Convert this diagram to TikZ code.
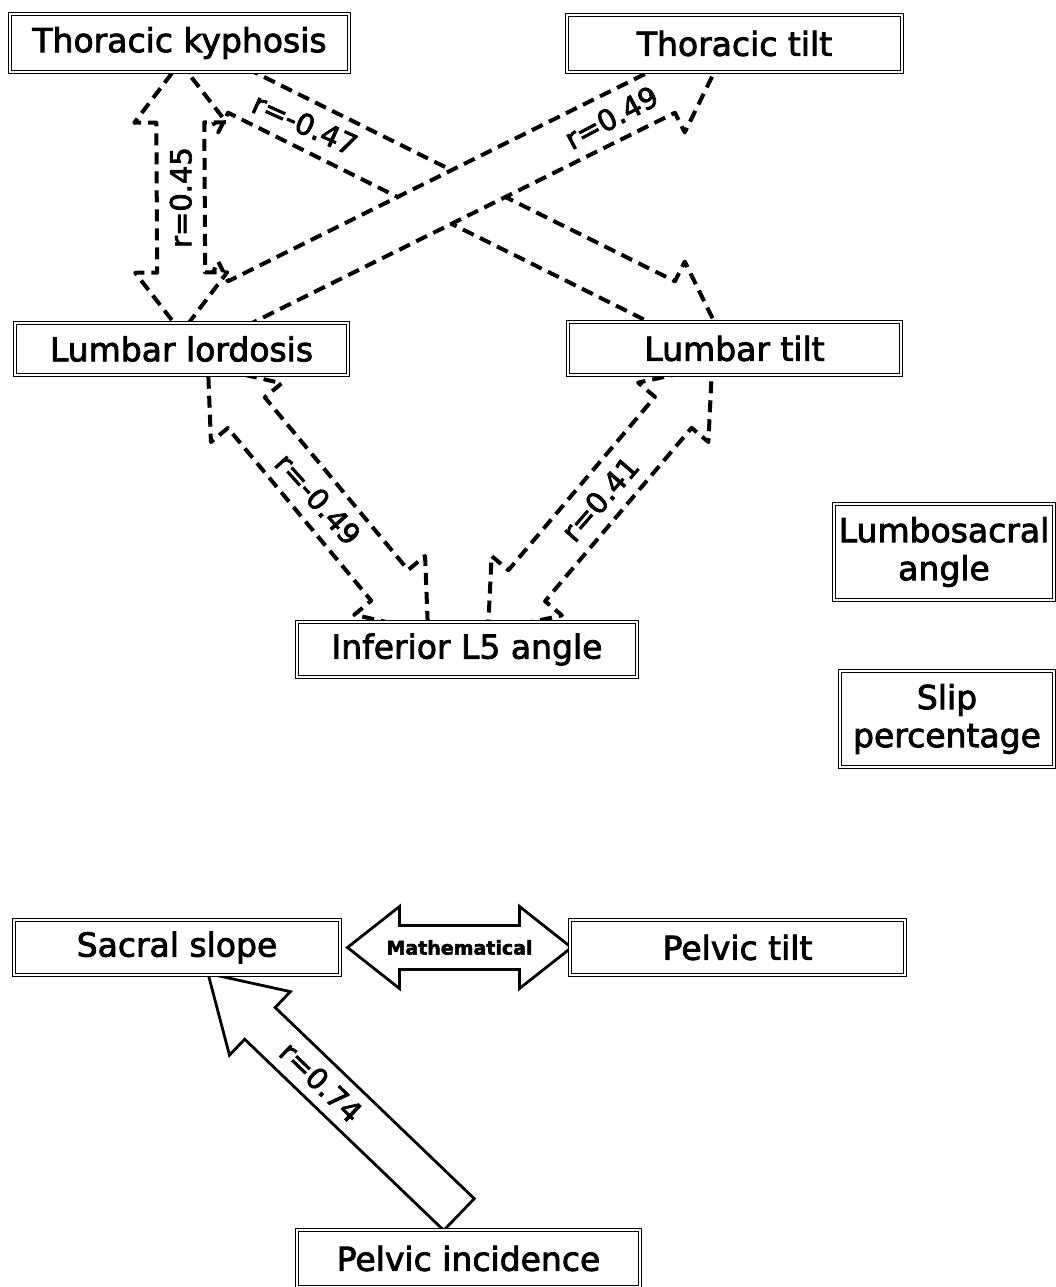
\documentclass[tikz,border=0pt]{standalone}
\usepackage{fontspec}
\setmainfont{DejaVu Sans}[FakeBold=2.5]
\usetikzlibrary{calc}
\pgfdeclarelayer{bglayer}
\pgfdeclarelayer{arrowlayer}
\pgfsetlayers{bglayer,arrowlayer,main}

\tikzset{
  arrW/.store in=\arrW, arrH/.store in=\arrH, arrL/.store in=\arrL,
  arrW=24pt, arrH=46pt, arrL=60pt,
  % block arrow with a head at both ends
  dblarrow/.style={to path={
    -- ($(\tikztostart)!\arrL!(\tikztotarget)!\arrH!90:(\tikztotarget)$)
    -- ($(\tikztostart)!\arrL!(\tikztotarget)!\arrW!90:(\tikztotarget)$)
    -- ($(\tikztotarget)!\arrL!(\tikztostart)!\arrW!-90:(\tikztostart)$)
    -- ($(\tikztotarget)!\arrL!(\tikztostart)!\arrH!-90:(\tikztostart)$)
    -- (\tikztotarget)
    -- ($(\tikztotarget)!\arrL!(\tikztostart)!\arrH!90:(\tikztostart)$)
    -- ($(\tikztotarget)!\arrL!(\tikztostart)!\arrW!90:(\tikztostart)$)
    -- ($(\tikztostart)!\arrL!(\tikztotarget)!\arrW!-90:(\tikztotarget)$)
    -- ($(\tikztostart)!\arrL!(\tikztotarget)!\arrH!-90:(\tikztotarget)$)
    -- cycle}},
  % block arrow with a single head at the target
  sglarrow/.style={to path={
    -- ($(\tikztostart)!\arrW!90:(\tikztotarget)$)
    -- ($(\tikztotarget)!\arrL!(\tikztostart)!\arrW!-90:(\tikztostart)$)
    -- ($(\tikztotarget)!\arrL!(\tikztostart)!\arrH!-90:(\tikztostart)$)
    -- (\tikztotarget)
    -- ($(\tikztotarget)!\arrL!(\tikztostart)!\arrH!90:(\tikztostart)$)
    -- ($(\tikztotarget)!\arrL!(\tikztostart)!\arrW!90:(\tikztostart)$)
    -- ($(\tikztostart)!\arrW!-90:(\tikztotarget)$)
    -- cycle}},
  dashedarrow/.style={draw=black, fill=white, line width=4pt,
    dash pattern=on 12pt off 7pt, line join=round},
  solidarrow/.style={draw=black, fill=white, line width=2.8pt, line join=miter},
  box/.style={draw=black, fill=white, double=white, double distance=2.2pt,
    line width=1pt, inner sep=0pt, align=center,
    font=\fontsize{33}{38}\selectfont},
  corr/.style={inner sep=1pt, font=\fontsize{29}{30}\selectfont},
}

\begin{document}
\begin{tikzpicture}[x=1pt, y=-1pt]
\useasboundingbox (0,0) rectangle (1056,1287);
\begin{pgfonlayer}{bglayer}
  \fill[white] (0,0) rectangle (1056,1287);
\end{pgfonlayer}

% variable boxes
\node[box, minimum width=339pt, minimum height=58pt] (TK)  at (179.5,43)   {Thoracic kyphosis};
\node[box, minimum width=335pt, minimum height=57pt] (TT)  at (734.5,43.5) {Thoracic tilt};
\node[box, minimum width=333pt, minimum height=52pt] (LL)  at (181.5,349)  {Lumbar lordosis};
\node[box, minimum width=333pt, minimum height=53pt] (LT)  at (734.5,348.5){Lumbar tilt};
\node[box, minimum width=340pt, minimum height=55pt] (IL5) at (467,649.5)  {Inferior L5 angle};
\node[box, minimum width=220pt, minimum height=96pt] (LSA) at (944,552)    {Lumbosacral\\angle};
\node[box, minimum width=214pt, minimum height=96pt] (SP)  at (947,719)    {Slip\\percentage};
\node[box, minimum width=326pt, minimum height=55pt] (SS)  at (177,947.5)  {Sacral slope};
\node[box, minimum width=335pt, minimum height=55pt] (PT)  at (737.5,947.5){Pelvic tilt};
\node[box, minimum width=343pt, minimum height=57pt] (PI)  at (468.5,1258.5){Pelvic incidence};

% arrow end points, tucked under the box borders
\coordinate (a1) at ($(TK.south)+(0.5,-10)$);
\coordinate (a2) at ($(LL.north)+(0,10)$);
\coordinate (b1) at ($(TK.south)+(5.5,-8)$);
\coordinate (b2) at ($(LT.north)+(-16.5,8)$);
\coordinate (c1) at ($(LL.north)+(3.5,7)$);
\coordinate (c2) at ($(TT.south)+(-16.5,-8)$);
\coordinate (d1) at ($(LL.south)+(26.5,-9)$);
\coordinate (d2) at ($(IL5.north)+(-39,10)$);
\coordinate (e1) at ($(IL5.north)+(21,10)$);
\coordinate (e2) at ($(LT.south)+(-22.5,-9)$);
\coordinate (m1) at ($(SS.east)+(7,0)$);
\coordinate (m2) at ($(PT.west)+(2,0)$);
\coordinate (p1) at ($(PI.north)+(-9.5,-15)$);
\coordinate (p2) at ($(SS.south)+(31,-2)$);

\begin{pgfonlayer}{arrowlayer}
  \draw[dashedarrow] (b1) to[dblarrow] (b2);
  \draw[dashedarrow] (c1) to[dblarrow] (c2);
  \draw[dashedarrow] (a1) to[dblarrow] (a2);
  \draw[dashedarrow] (d1) to[dblarrow] (d2);
  \draw[dashedarrow] (e1) to[dblarrow] (e2);
  \draw[solidarrow, arrW=22pt, arrH=41pt, arrL=52pt] (m1) to[dblarrow] (m2);
  \draw[solidarrow, arrW=22pt, arrH=44pt, arrL=72pt] (p1) to[sglarrow] (p2);
\end{pgfonlayer}

% correlation labels
\node[corr, rotate=90]  (l45) at ($(a1)!0.5!(a2)$)   {r=0.45};
\node[corr, rotate=-24] (l47) at ($(b1)!0.225!(b2)$) {r=-0.47};
\node[corr, rotate=28]  (l49) at ($(c1)!0.8!(c2)$)   {r=0.49};
\node[corr, rotate=-48] (l49b) at ($(d1)!0.5!(d2)$)  {r=-0.49};
\node[corr, rotate=49]  (l41) at ($(e1)!0.5!(e2)$)   {r=0.41};
\node[corr, rotate=-44] (l74) at ($(p2)!0.45!(p1)$)  {r=0.74};
\node[inner sep=0pt, font=\bfseries\fontsize{19}{20}\selectfont] (math)
  at ($(m1)!0.5!(m2)$) {Mathematical};
\end{tikzpicture}
\end{document}
